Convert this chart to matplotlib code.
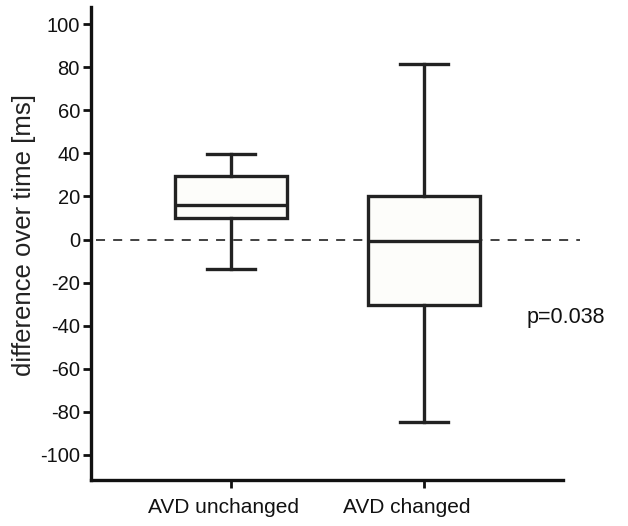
import matplotlib
matplotlib.use("Agg")
import matplotlib.pyplot as plt
from matplotlib.transforms import ScaledTranslation

plt.rcParams['font.family'] = ['Liberation Sans', 'DejaVu Sans']

categories = ["AVD unchanged", "AVD changed"]
whisker_low = [-13.7, -84.5]
q1 = [10.1, -30.4]
median = [15.9, -0.6]
q3 = [29.6, 20.3]
whisker_high = [39.5, 81.3]
yticks = [100, 80, 60, 40, 20, 0, -20, -40, -60, -80, -100]
p_text = "p=0.038"

fig = plt.figure(figsize=(6.28, 5.26), dpi=100)
ax = fig.add_axes([0.145, 0.0875, 0.7515, 0.899])

stats = []
for i, c in enumerate(categories):
    stats.append(dict(label=c, whislo=whisker_low[i], q1=q1[i], med=median[i],
                      q3=q3[i], whishi=whisker_high[i], fliers=[]))

lc = '#222222'
lw = 2.4
ax.axhline(0, xmin=0.01, xmax=1.035, color='#333333', lw=1.3,
           dashes=(5, 4.5), clip_on=False, zorder=1)
ax.bxp(stats, positions=[1, 2], widths=0.58, capwidths=0.25, patch_artist=True,
       showfliers=False,
       boxprops=dict(facecolor='#fdfdfa', edgecolor=lc, linewidth=lw),
       medianprops=dict(color=lc, linewidth=lw),
       whiskerprops=dict(color=lc, linewidth=lw),
       capprops=dict(color=lc, linewidth=lw), zorder=2)

ax.set_xlim(0.275, 2.72)
ax.set_ylim(-111.6, 107.9)
ax.set_yticks(yticks)
ax.set_yticklabels([str(t) for t in yticks])
ax.set_xticks([1, 2])
ax.set_xticklabels(categories)
ax.spines['top'].set_visible(False)
ax.spines['right'].set_visible(False)
for s in ['left', 'bottom']:
    ax.spines[s].set_linewidth(2.4)
    ax.spines[s].set_color('#111111')
ax.tick_params(axis='both', direction='out', length=6, width=2, color='#111111',
               colors='#111111')
ax.tick_params(axis='y', pad=2, labelsize=14.5)
ax.tick_params(axis='x', pad=7, labelsize=15)
for lab, dx in zip(ax.get_xticklabels(), [-8, -17]):
    lab.set_transform(lab.get_transform() + ScaledTranslation(dx / 100, 0, fig.dpi_scale_trans))
ax.set_ylabel("difference over time [ms]", fontsize=18.5, color='#222222')
ax.yaxis.set_label_coords(-0.117, 0.518)
ax.text(2.53, -36.4, p_text, fontsize=15.5, va='center', ha='left', color='#111111')

fig.savefig("out.png", dpi=100)
